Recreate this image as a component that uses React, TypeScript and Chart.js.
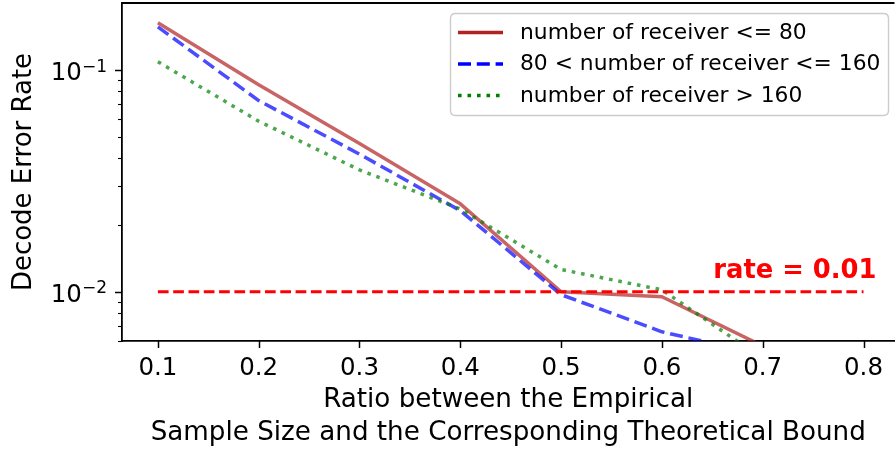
import React, { useEffect, useRef } from "react";
import { Chart, registerables } from "chart.js";

Chart.register(...registerables);

// ---------- data ----------
const xValues = [0.1, 0.2, 0.3, 0.4, 0.5, 0.6, 0.7, 0.8];
const seriesLow = [0.163, 0.0856, 0.0466, 0.0249, 0.01, 0.0095, 0.0057, 0.0036];
const seriesMid = [0.156, 0.0727, 0.0417, 0.0232, 0.0097, 0.0066, 0.0052, 0.0036];
const seriesHigh = [0.1087, 0.0587, 0.0354, 0.0236, 0.0126, 0.0102, 0.005, 0.0034];
const seriesLabels = [
  "number of receiver <= 80",
  "80 < number of receiver <= 160",
  "number of receiver > 160",
];
const thresholdX = [0.1, 0.8];
const thresholdY = [0.01, 0.01];
const thresholdLabel = "rate = 0.01";
const thresholdLabelAt = [0.651, 0.0115];

const xTickValues = [0.1, 0.2, 0.3, 0.4, 0.5, 0.6, 0.7, 0.8];
const yMajorTicks = [0.01, 0.1];
const yMajorExponents = ["\u22122", "\u22121"];
const yMinorTicks = [0.006, 0.007, 0.008, 0.009, 0.02, 0.03, 0.04, 0.05, 0.06, 0.07, 0.08, 0.09];

const xTitle = ["Ratio between the Empirical", "Sample Size and the Corresponding Theoretical Bound"];
const yTitle = "Decode Error Rate";

const X_MIN = 0.0644;
const X_MAX = 0.8307;
const Y_MIN = 0.006;
const Y_MAX = 0.2;

// ---------- styles ----------
const FONT = "'DejaVu Sans', sans-serif";
const lineColors = ["rgba(178,34,34,0.7)", "rgba(0,0,255,0.7)", "rgba(0,128,0,0.7)"];
const legendColors = ["#b22222", "#0000ff", "#008000"];
const lineDashes = [[], [13, 5.8], [3.6, 5.9]];

const decorPlugin = {
  id: "decor",
  afterDraw(chart: any) {
    const ctx = chart.ctx as CanvasRenderingContext2D;
    const area = chart.chartArea;
    const xs = chart.scales.x;
    const ys = chart.scales.y;
    ctx.save();

    // top spine
    ctx.strokeStyle = "#000";
    ctx.lineWidth = 1.8;
    ctx.beginPath();
    ctx.moveTo(area.left - 0.9, area.top);
    ctx.lineTo(area.right, area.top);
    ctx.stroke();

    // x ticks
    ctx.lineWidth = 1.5;
    for (const v of xTickValues) {
      const px = Math.round(xs.getPixelForValue(v)) + 0.5;
      ctx.beginPath();
      ctx.moveTo(px, area.bottom);
      ctx.lineTo(px, area.bottom + 7);
      ctx.stroke();
    }
    // y ticks
    for (const v of yMajorTicks) {
      const py = Math.round(ys.getPixelForValue(v)) + 0.5;
      ctx.lineWidth = 1.5;
      ctx.beginPath();
      ctx.moveTo(area.left, py);
      ctx.lineTo(area.left - 7, py);
      ctx.stroke();
    }
    for (const v of yMinorTicks) {
      const py = Math.round(ys.getPixelForValue(v)) + 0.5;
      ctx.lineWidth = 1.1;
      ctx.beginPath();
      ctx.moveTo(area.left, py);
      ctx.lineTo(area.left - 4, py);
      ctx.stroke();
    }

    // y tick labels: 10^{-n}
    ctx.fillStyle = "#000";
    ctx.textBaseline = "alphabetic";
    yMajorTicks.forEach((v, i) => {
      const py = ys.getPixelForValue(v);
      const right = area.left - 15;
      ctx.font = `17px ${FONT}`;
      const supW = ctx.measureText(yMajorExponents[i]).width;
      ctx.textAlign = "right";
      ctx.fillText(yMajorExponents[i], right, py + 1.7);
      ctx.font = `24.5px ${FONT}`;
      ctx.fillText("10", right - supW, py + 10);
    });

    // threshold label
    ctx.font = `bold 25.8px ${FONT}`;
    ctx.fillStyle = "#ff0000";
    ctx.textAlign = "left";
    ctx.textBaseline = "alphabetic";
    ctx.fillText(
      thresholdLabel,
      xs.getPixelForValue(thresholdLabelAt[0]),
      ys.getPixelForValue(thresholdLabelAt[1])
    );

    // legend
    const lx = 450.5, ly = 13.5, lw = 438, lh = 102, r = 5;
    ctx.beginPath();
    ctx.moveTo(lx + r, ly);
    ctx.lineTo(lx + lw - r, ly);
    ctx.quadraticCurveTo(lx + lw, ly, lx + lw, ly + r);
    ctx.lineTo(lx + lw, ly + lh - r);
    ctx.quadraticCurveTo(lx + lw, ly + lh, lx + lw - r, ly + lh);
    ctx.lineTo(lx + r, ly + lh);
    ctx.quadraticCurveTo(lx, ly + lh, lx, ly + lh - r);
    ctx.lineTo(lx, ly + r);
    ctx.quadraticCurveTo(lx, ly, lx + r, ly);
    ctx.closePath();
    ctx.fillStyle = "rgba(255,255,255,0.8)";
    ctx.fill();
    ctx.strokeStyle = "#cccccc";
    ctx.lineWidth = 1.4;
    ctx.stroke();

    ctx.font = `21.8px ${FONT}`;
    ctx.textBaseline = "middle";
    ctx.textAlign = "left";
    seriesLabels.forEach((label, i) => {
      const cy = 32.5 + i * 31.5;
      ctx.strokeStyle = legendColors[i];
      ctx.lineWidth = 3.5;
      ctx.lineCap = "butt";
      ctx.setLineDash(lineDashes[i]);
      ctx.beginPath();
      ctx.moveTo(458, cy);
      ctx.lineTo(503, cy);
      ctx.stroke();
      ctx.setLineDash([]);
      ctx.fillStyle = "#000";
      ctx.fillText(label, 520, cy + 0.5);
    });

    ctx.restore();
  },
};

export default function App() {
  const canvasRef = useRef<HTMLCanvasElement | null>(null);

  useEffect(() => {
    document.body.style.margin = "0";
    document.body.style.background = "#fff";
    const canvas = canvasRef.current;
    if (!canvas) return;

    const toPoints = (ys: number[]) => xValues.map((x, i) => ({ x, y: ys[i] }));
    const seriesValues = [seriesLow, seriesMid, seriesHigh];

    const datasets: any[] = seriesValues.map((vals, i) => ({
      label: seriesLabels[i],
      data: toPoints(vals),
      borderColor: lineColors[i],
      backgroundColor: lineColors[i],
      borderWidth: 3.5,
      borderDash: lineDashes[i],
      borderCapStyle: "butt",
      borderJoinStyle: "round",
      pointRadius: 0,
      fill: false,
      tension: 0,
      clip: 0,
      order: 3 - i,
    }));
    datasets.push({
      label: thresholdLabel,
      data: thresholdX.map((x, i) => ({ x, y: thresholdY[i] })),
      borderColor: "#ff0000",
      borderWidth: 2.9,
      borderDash: [10.7, 4.6],
      borderCapStyle: "butt",
      pointRadius: 0,
      fill: false,
      clip: 0,
      order: 0,
    });

    const chart = new Chart(canvas, {
      type: "line",
      data: { datasets },
      options: {
        responsive: false,
        animation: false,
        events: [],
        layout: { padding: { top: 3, left: 0, right: 0, bottom: 0 } },
        plugins: { legend: { display: false }, tooltip: { enabled: false } },
        scales: {
          x: {
            type: "linear",
            min: X_MIN,
            max: X_MAX,
            afterBuildTicks: (axis: any) => {
              axis.ticks = xTickValues.map((v) => ({ value: v }));
            },
            afterFit: (axis: any) => {
              axis.height = 110;
            },
            grid: { display: false, drawTicks: false },
            border: { display: true, color: "#000", width: 1.8 },
            ticks: {
              color: "#000",
              font: { family: FONT, size: 24.5, lineHeight: 1.2 },
              padding: 13,
              maxRotation: 0,
              autoSkip: false,
              callback: (v: any) => Number(v).toFixed(1),
            },
            title: {
              display: true,
              text: xTitle,
              color: "#000",
              font: { family: FONT, size: 26.2, lineHeight: 1.23 },
              padding: { top: 0, bottom: 2 },
            },
          },
          y: {
            type: "logarithmic",
            min: Y_MIN,
            max: Y_MAX,
            afterFit: (axis: any) => {
              axis.width = 122;
            },
            grid: { display: false, drawTicks: false },
            border: { display: true, color: "#000", width: 1.8 },
            ticks: { display: false },
            title: {
              display: true,
              text: yTitle,
              color: "#000",
              font: { family: FONT, size: 26, lineHeight: 1.2 },
              padding: { top: 8.4, bottom: 0 },
            },
          },
        },
      } as any,
      plugins: [decorPlugin],
    });

    return () => chart.destroy();
  }, []);

  return (
    <div style={{ width: 896, height: 451 }}>
      <canvas ref={canvasRef} width={896} height={451} style={{ display: "block" }} />
    </div>
  );
}
